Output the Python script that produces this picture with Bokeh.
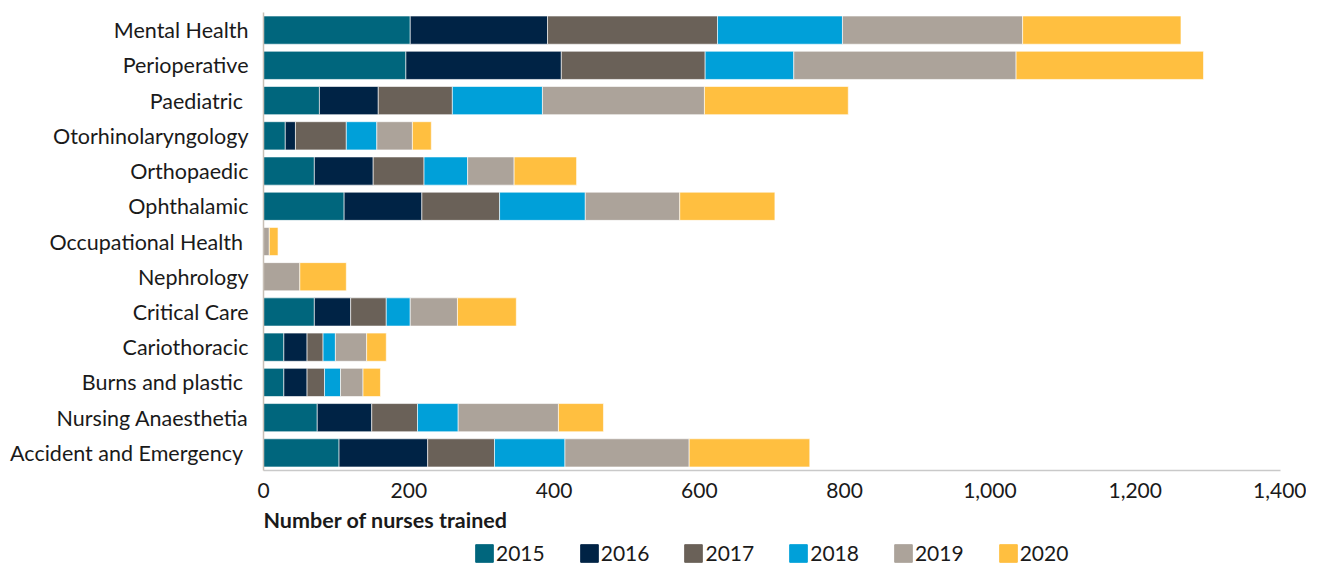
from bokeh.plotting import figure
from bokeh.layouts import column
from bokeh.models import ColumnDataSource, FactorRange, Range1d, Legend, LegendItem, NumeralTickFormatter, Label
from bokeh.embed import file_html
from bokeh.resources import INLINE

categories = ["Mental Health", "Perioperative", "Paediatric ", "Otorhinolaryngology", "Orthopaedic",
              "Ophthalamic", "Occupational Health ", "Nephrology", "Critical Care", "Cariothoracic",
              "Burns and plastic ", "Nursing Anaesthetia", "Accident and Emergency "]
years = ["2015", "2016", "2017", "2018", "2019", "2020"]
y2015 = [202, 196, 77, 30, 70, 111, 0, 0, 70, 28, 28, 74, 104]
y2016 = [189, 214, 81, 14, 81, 107, 0, 0, 50, 32, 32, 75, 122]
y2017 = [234, 198, 102, 70, 70, 107, 0, 0, 49, 22, 24, 63, 92]
y2018 = [172, 122, 124, 42, 60, 118, 0, 0, 33, 17, 22, 56, 97]
y2019 = [248, 306, 223, 49, 64, 130, 8, 50, 65, 43, 31, 138, 171]
y2020 = [218, 258, 198, 26, 86, 131, 12, 64, 81, 27, 24, 62, 166]
colors = ["#00667D", "#002345", "#6A6158", "#00A0D9", "#ACA39A", "#FFBF40"]
x_ticks = [0, 200, 400, 600, 800, 1000, 1200, 1400]
x_title = "Number of nurses trained"

FONT = "Lato"
FS = "21px"
W = 1306
LEFT, RIGHT = 263, 26

data = {"cat": categories}
for yr, vals in zip(years, [y2015, y2016, y2017, y2018, y2019, y2020]):
    data[yr] = vals
source = ColumnDataSource(data)

# ---- main chart ----
p = figure(width=W, height=508, output_backend="svg", toolbar_location=None,
           y_range=FactorRange(factors=list(reversed(categories)), range_padding=0),
           x_range=Range1d(0, 1400),
           min_border_left=LEFT, min_border_right=RIGHT, min_border_top=12, min_border_bottom=38)
p.outline_line_color = None
p.xgrid.grid_line_color = None
p.ygrid.grid_line_color = None

p.hbar_stack(years, y="cat", height=0.8, color=colors, source=source,
             line_color="white", line_width=0.6)

p.xaxis.ticker = x_ticks
p.xaxis.formatter = NumeralTickFormatter(format="0,0")
p.xaxis.axis_line_color = "#C9C9C9"
p.xaxis.axis_line_width = 1.5
p.xaxis.major_tick_line_color = None
p.xaxis.major_tick_out = 0
p.xaxis.major_tick_in = 0
p.xaxis.minor_tick_line_color = None
p.xaxis.major_label_text_font = FONT
p.xaxis.major_label_text_font_size = FS
p.xaxis.major_label_text_color = "#1a1a1a"
p.xaxis.major_label_standoff = 12

p.yaxis.axis_line_color = "#C8C0B6"
p.yaxis.axis_line_width = 1.5
p.yaxis.major_tick_line_color = None
p.yaxis.major_tick_out = 0
p.yaxis.major_tick_in = 0
p.yaxis.minor_tick_line_color = None
p.yaxis.major_label_text_font = FONT
p.yaxis.major_label_text_font_size = "21.5px"
p.yaxis.major_label_text_color = "#1a1a1a"
p.yaxis.major_label_standoff = 15

# ---- strip with axis title and legend (frame aligned with the chart frame) ----
H2 = 59
p2 = figure(width=W, height=H2, output_backend="svg", toolbar_location=None,
            x_range=Range1d(0, W - LEFT - RIGHT), y_range=Range1d(0, H2),
            x_axis_type=None, y_axis_type=None,
            min_border_left=LEFT, min_border_right=RIGHT, min_border_top=0, min_border_bottom=0)
p2.outline_line_color = None
p2.xgrid.grid_line_color = None
p2.ygrid.grid_line_color = None

xl = Label(x=0, y=H2 - 11, text=x_title, text_font=FONT, text_font_size="21.5px",
           text_font_style="bold", text_color="#1a1a1a",
           text_align="left", text_baseline="middle")
p2.add_layout(xl)

# invisible zero-width stand-ins so the legend can show the series swatches
legend_renderers = [p2.hbar(y=[-100], left=[0], right=[0], height=1, color=c) for c in colors]
legend = Legend(items=[LegendItem(label=yr, renderers=[r]) for yr, r in zip(years, legend_renderers)],
                orientation="horizontal", location=(210, 2),
                label_text_font=FONT, label_text_font_size=FS, label_text_color="#1a1a1a",
                glyph_width=22, glyph_height=22, label_standoff=1, spacing=33,
                border_line_color=None, background_fill_alpha=0, padding=0, margin=0)
p2.add_layout(legend)

open("out.html", "w").write(file_html(column(p, p2), INLINE))
